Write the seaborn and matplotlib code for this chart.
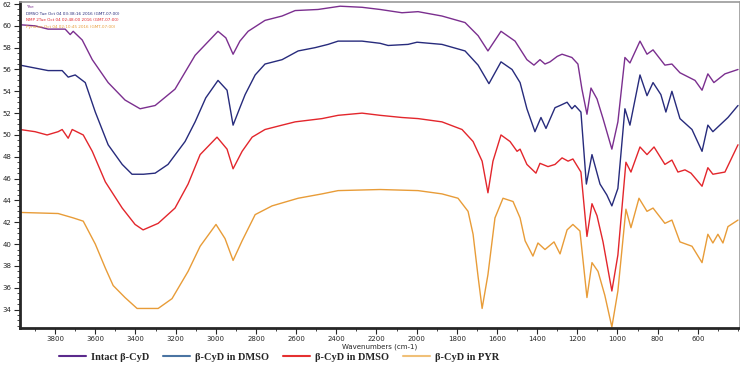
import matplotlib
matplotlib.use("Agg")
import matplotlib.pyplot as plt
from matplotlib.lines import Line2D
from matplotlib.ticker import MultipleLocator
import pandas as pd
import seaborn as sns

# FTIR spectra (wavenumber cm-1, %T)
wn_intact = [3975, 3900, 3835, 3750, 3725, 3710, 3665, 3615, 3536, 3452, 3377, 3302, 3203, 3103,
             2989, 2950, 2914, 2880, 2839, 2755, 2670, 2605, 2491, 2381, 2272, 2182, 2073, 1993,
             1874, 1759, 1694, 1645, 1580, 1510, 1451, 1416, 1386, 1361, 1336, 1300, 1276, 1227,
             1197, 1177, 1152, 1132, 1102, 1072, 1028, 998, 963, 938, 888, 853, 823, 764, 729,
             689, 614, 579, 550, 520, 465, 400]
t_intact = [60.1, 60.0, 59.7, 59.7, 59.2, 59.5, 58.7, 56.9, 54.8, 53.2, 52.4, 52.7, 54.2, 57.3,
            59.5, 58.9, 57.4, 58.6, 59.5, 60.5, 60.9, 61.4, 61.5, 61.8, 61.7, 61.5, 61.2, 61.3,
            60.9, 60.3, 59.1, 57.7, 59.5, 58.6, 56.9, 56.4, 56.9, 56.5, 56.7, 57.2, 57.4, 57.1,
            56.5, 54.2, 51.9, 54.3, 53.3, 51.5, 48.7, 51.2, 57.1, 56.6, 58.6, 57.4, 57.8, 56.4, 56.5,
            55.7, 55.0, 54.1, 55.6, 54.8, 55.6, 56.0]

wn_dmso = [3975, 3835, 3765, 3735, 3700, 3650, 3600, 3536, 3466, 3417, 3360, 3302, 3238, 3153,
           3103, 3050, 2989, 2944, 2914, 2880, 2854, 2804, 2755, 2670, 2590, 2506, 2441, 2391,
           2272, 2182, 2142, 2043, 1998, 1874, 1759, 1694, 1640, 1580, 1525, 1485, 1451, 1411,
           1381, 1356, 1311, 1286, 1251, 1227, 1212, 1182, 1155, 1127, 1087, 1053, 1028, 998,
           963, 938, 888, 853, 823, 784, 759, 729, 689, 629, 579, 550, 525, 450, 400]
t_dmso = [56.4, 55.9, 55.9, 55.3, 55.5, 54.8, 52.1, 49.1, 47.3, 46.4, 46.4, 46.5, 47.3, 49.4,
          51.2, 53.4, 55.0, 54.1, 50.9, 52.5, 53.7, 55.5, 56.5, 56.9, 57.7, 58.0, 58.3, 58.6,
          58.6, 58.4, 58.2, 58.3, 58.5, 58.3, 57.7, 56.4, 54.7, 56.7, 56.0, 54.8, 52.4, 50.3,
          51.6, 50.6, 52.5, 52.7, 53.0, 52.4, 52.7, 52.1, 45.5, 48.2, 45.5, 44.5, 43.5, 45.1,
          52.4, 50.9, 55.5, 53.6, 54.8, 53.7, 52.1, 54.0, 51.5, 50.5, 48.5, 50.9, 50.3, 51.6, 52.7]

wn_nmp = [3975, 3900, 3840, 3785, 3765, 3735, 3715, 3660, 3615, 3550, 3466, 3402, 3362, 3287,
          3203, 3138, 3078, 2994, 2944, 2914, 2869, 2819, 2755, 2670, 2605, 2471, 2391, 2272,
          2182, 2073, 1993, 1874, 1774, 1719, 1674, 1645, 1620, 1580, 1535, 1500, 1485, 1451,
          1406, 1386, 1346, 1311, 1276, 1246, 1222, 1182, 1152, 1127, 1102, 1072, 1028, 998,
          958, 933, 888, 853, 818, 764, 729, 699, 664, 634, 579, 550, 525, 465, 400]
t_nmp = [50.5, 50.3, 50.0, 50.3, 50.5, 49.7, 50.5, 50.0, 48.5, 45.7, 43.3, 41.8, 41.3, 41.9,
         43.3, 45.5, 48.2, 49.8, 48.7, 46.9, 48.5, 49.8, 50.5, 50.9, 51.2, 51.5, 51.8, 52.0,
         51.8, 51.6, 51.5, 51.2, 50.5, 49.4, 47.6, 44.7, 47.6, 50.0, 49.4, 48.5, 48.7, 47.3,
         46.5, 47.4, 47.1, 47.3, 47.9, 47.6, 47.8, 46.6, 40.7, 43.7, 42.6, 40.2, 35.7, 39.0,
         47.5, 46.6, 48.9, 48.2, 48.9, 47.3, 47.7, 46.6, 46.8, 46.5, 45.3, 47.0, 46.4, 46.6, 49.1]

wn_pyr = [3975, 3785, 3710, 3660, 3600, 3550, 3511, 3452, 3392, 3287, 3218, 3138, 3078, 2999,
          2954, 2914, 2869, 2804, 2720, 2590, 2471, 2391, 2182, 1993, 1874, 1794, 1744, 1719,
          1694, 1674, 1645, 1610, 1570, 1520, 1485, 1460, 1421, 1396, 1361, 1316, 1286, 1251,
          1222, 1187, 1152, 1127, 1097, 1063, 1028, 998, 958, 933, 893, 853, 823, 764, 729,
          689, 629, 579, 550, 525, 500, 475, 450, 400]
t_pyr = [42.9, 42.8, 42.4, 42.1, 40.0, 37.8, 36.2, 35.1, 34.1, 34.1, 35.0, 37.5, 39.8, 41.8,
         40.5, 38.5, 40.3, 42.7, 43.5, 44.2, 44.6, 44.9, 45.0, 44.9, 44.6, 44.2, 43.0, 40.9,
         37.0, 34.1, 37.2, 42.4, 44.2, 43.9, 42.4, 40.3, 38.9, 40.1, 39.5, 40.2, 39.1, 41.3,
         41.8, 41.2, 35.1, 38.3, 37.5, 35.3, 32.4, 35.7, 43.2, 41.5, 44.2, 43.0, 43.3, 41.9, 42.2,
         40.2, 39.8, 38.3, 40.9, 40.1, 40.9, 40.1, 41.6, 42.2]

labels = ["Intact β-CyD", "β-CyD in DMSO", "β-CyD in DMSO", "β-CyD in PYR"]
headers = ["Yhe", "DMSO Tue Oct 04 03:38:16 2016 (GMT-07:00)",
           "NMP 2Tue Oct 04 02:48:00 2016 (GMT-07:00)",
           "Pyridine Oct 04 02:10:45 2016 (GMT-07:00)"]
line_colors = ["#7B2F8F", "#272B7C", "#E3262C", "#E89C38"]
legend_colors = ["#5B2A8C", "#4A74A2", "#E53030", "#F0C078"]

sns.set_style("ticks")
fig = plt.figure(figsize=(7.4, 3.67), dpi=100)
ax = fig.add_axes([0.027, 0.106, 0.973, 0.889])

series = [(wn_intact, t_intact), (wn_dmso, t_dmso), (wn_nmp, t_nmp), (wn_pyr, t_pyr)]
for (x, y), c in zip(series, line_colors):
    df = pd.DataFrame({"wn": x, "t": y})
    sns.lineplot(data=df, x="wn", y="t", ax=ax, color=c, lw=1.0, sort=False, estimator=None)

ax.set_xlim(3975, 390)
ax.set_ylim(32.3, 62.2)
ax.xaxis.set_minor_locator(MultipleLocator(100))
ax.yaxis.set_major_locator(MultipleLocator(2))
ax.yaxis.set_minor_locator(MultipleLocator(0.5))
ax.set_xticks([t for t in range(600, 3801, 200)])
ax.tick_params(axis="both", which="major", labelsize=5, length=4, width=0.8, pad=2)
ax.tick_params(axis="both", which="minor", length=2, width=0.6)
ax.set_xlabel("Wavenumbers (cm-1)", fontsize=5, labelpad=1)
ax.set_ylabel("")
for side in ["left", "bottom"]:
    ax.spines[side].set_linewidth(2.0)
for side in ["top", "right"]:
    ax.spines[side].set_color("#999999")
    ax.spines[side].set_linewidth(1.2)

for i, (h, c) in enumerate(zip(headers, line_colors)):
    ax.text(0.008, 0.99 - i * 0.02, h, transform=ax.transAxes, fontsize=3.0,
            color=c, va="top", ha="left")

handles = [Line2D([0], [0], color=c, lw=1.5) for c in legend_colors]
fig.legend(handles, labels, loc="center", bbox_to_anchor=(0.377, 0.027), ncol=4,
           frameon=False, handlelength=2.6, handletextpad=0.5, columnspacing=1.3,
           borderpad=0.1, prop={"family": "Liberation Serif", "weight": "bold", "size": 7.5})

fig.savefig("out.png", dpi=100)
